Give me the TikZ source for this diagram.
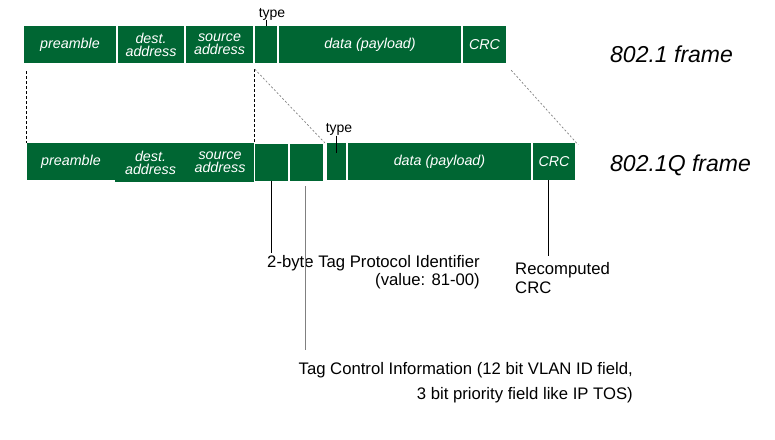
\documentclass[tikz,border=0pt]{standalone}
\usepackage{fontspec}
\setmainfont{Liberation Sans}
\usepackage{xcolor}
\usepackage{tikz}
\usetikzlibrary{positioning, calc}
\definecolor{framegreen}{RGB}{0,102,51}

\begin{document}
\begin{tikzpicture}[
    x=1pt, y=-1pt,
    fieldbox/.style={rectangle, fill=framegreen, inner sep=0pt, minimum height=37pt, text=white, align=center, font=\fontsize{14.3}{13}\selectfont\itshape},
    notetext/.style={inner sep=0pt, font=\fontsize{16.7}{18.5}\selectfont},
    typetext/.style={inner sep=0pt, anchor=base, font=\fontsize{14}{16}\selectfont},
    frametitle/.style={inner sep=0pt, anchor=base west, font=\fontsize{23}{27}\selectfont\itshape},
    guideline/.style={dash pattern=on 3pt off 2pt, line width=0.7pt},
    slantline/.style={dash pattern=on 2pt off 2pt, line width=0.7pt, gray},
    pointerline/.style={line width=0.8pt}
]
\useasboundingbox (0,0) rectangle (775,439);

% 802.1 frame
\node[fieldbox, minimum width=92pt] (tpre) at (70,44.5) {preamble};
\node[fieldbox, minimum width=66pt] (tdst) at (151,44.5) {dest.\\address};
\node[fieldbox, minimum width=67pt] (tsrc) at (219.5,44.5) {source\\address};
\node[fieldbox, minimum width=22pt] (ttype) at (266,44.5) {};
\node[fieldbox, minimum width=182pt] (tdata) at (370,44.5) {data (payload)};
\node[fieldbox, minimum width=43pt] (tcrc) at (484.5,44.5) {CRC};
\node[frametitle] (tname) at (610,62) {802.1 frame};

% 802.1Q frame
\node[fieldbox, minimum width=88pt] (bpre) at (71,161.5) {preamble};
\node[fieldbox, minimum width=71pt, minimum height=39pt] (bdst) at (150.5,162.5) {dest.\\address};
\node[fieldbox, minimum width=68pt, minimum height=39pt] (bsrc) at (220,162.5) {source\\address};
\node[fieldbox, minimum width=33pt] (tpid) at (271.5,162.5) {};
\node[fieldbox, minimum width=33pt] (tci) at (306.5,162.5) {};
\node[fieldbox, minimum width=19pt] (btype) at (336.5,161.5) {};
\node[fieldbox, minimum width=183pt] (bdata) at (439.5,161.5) {data (payload)};
\node[fieldbox, minimum width=42pt] (bcrc) at (554,161.5) {CRC};
\node[frametitle] (bname) at (610,171.5) {802.1Q frame};

% type labels
\node[typetext] (ttypelbl) at (272,17) {type};
\node[typetext] (btypelbl) at (339,132.5) {type};
\draw[pointerline] (ttypelbl.south -| ttype.north) -- (ttype.north);
\draw[pointerline] (btypelbl.south -| btype.north) -- ($(btype.north)+(0,10)$);

% dashed guides between the frames
\draw[guideline] ($(tpre.south -| bpre.west)+(0,8)$) -- (bpre.north west);
\draw[guideline] ($(tsrc.south east)+(1.5,6)$) -- ($(bsrc.north east)+(0.5,0)$);
\draw[slantline] ($(ttype.south west)+(0,6)$) -- ($(btype.north west)+(-2,0)$);
\draw[slantline] ($(tcrc.south east)+(5,7)$) -- ($(bcrc.north east)+(3,2)$);

% annotations
\node[notetext, align=right, anchor=north east] (tpidlbl) at (480,255) {2-byte Tag Protocol Identifier\\(value: 81-00)};
\node[notetext, align=left, anchor=north west, font=\fontsize{16.7}{19}\selectfont] (crclbl) at (515,262) {Recomputed\\CRC};
\node[notetext, align=right, anchor=north east, font=\fontsize{16.7}{25}\selectfont] (tcilbl) at (633,362) {Tag Control Information (12 bit VLAN ID field,\\3 bit priority field like IP TOS)};

\draw[pointerline] (tpid.south) -- ($(tpid.south |- tpidlbl.north)+(0,-2)$);
\draw[pointerline, gray] ($(tci.south)+(-1.5,5)$) -- ($(tci.south |- tcilbl.north)+(-1.5,-12)$);
\draw[pointerline] ($(bcrc.south)+(-6,0)$) -- ($(bcrc.south |- crclbl.north)+(-6,-6)$);

\end{tikzpicture}
\end{document}
